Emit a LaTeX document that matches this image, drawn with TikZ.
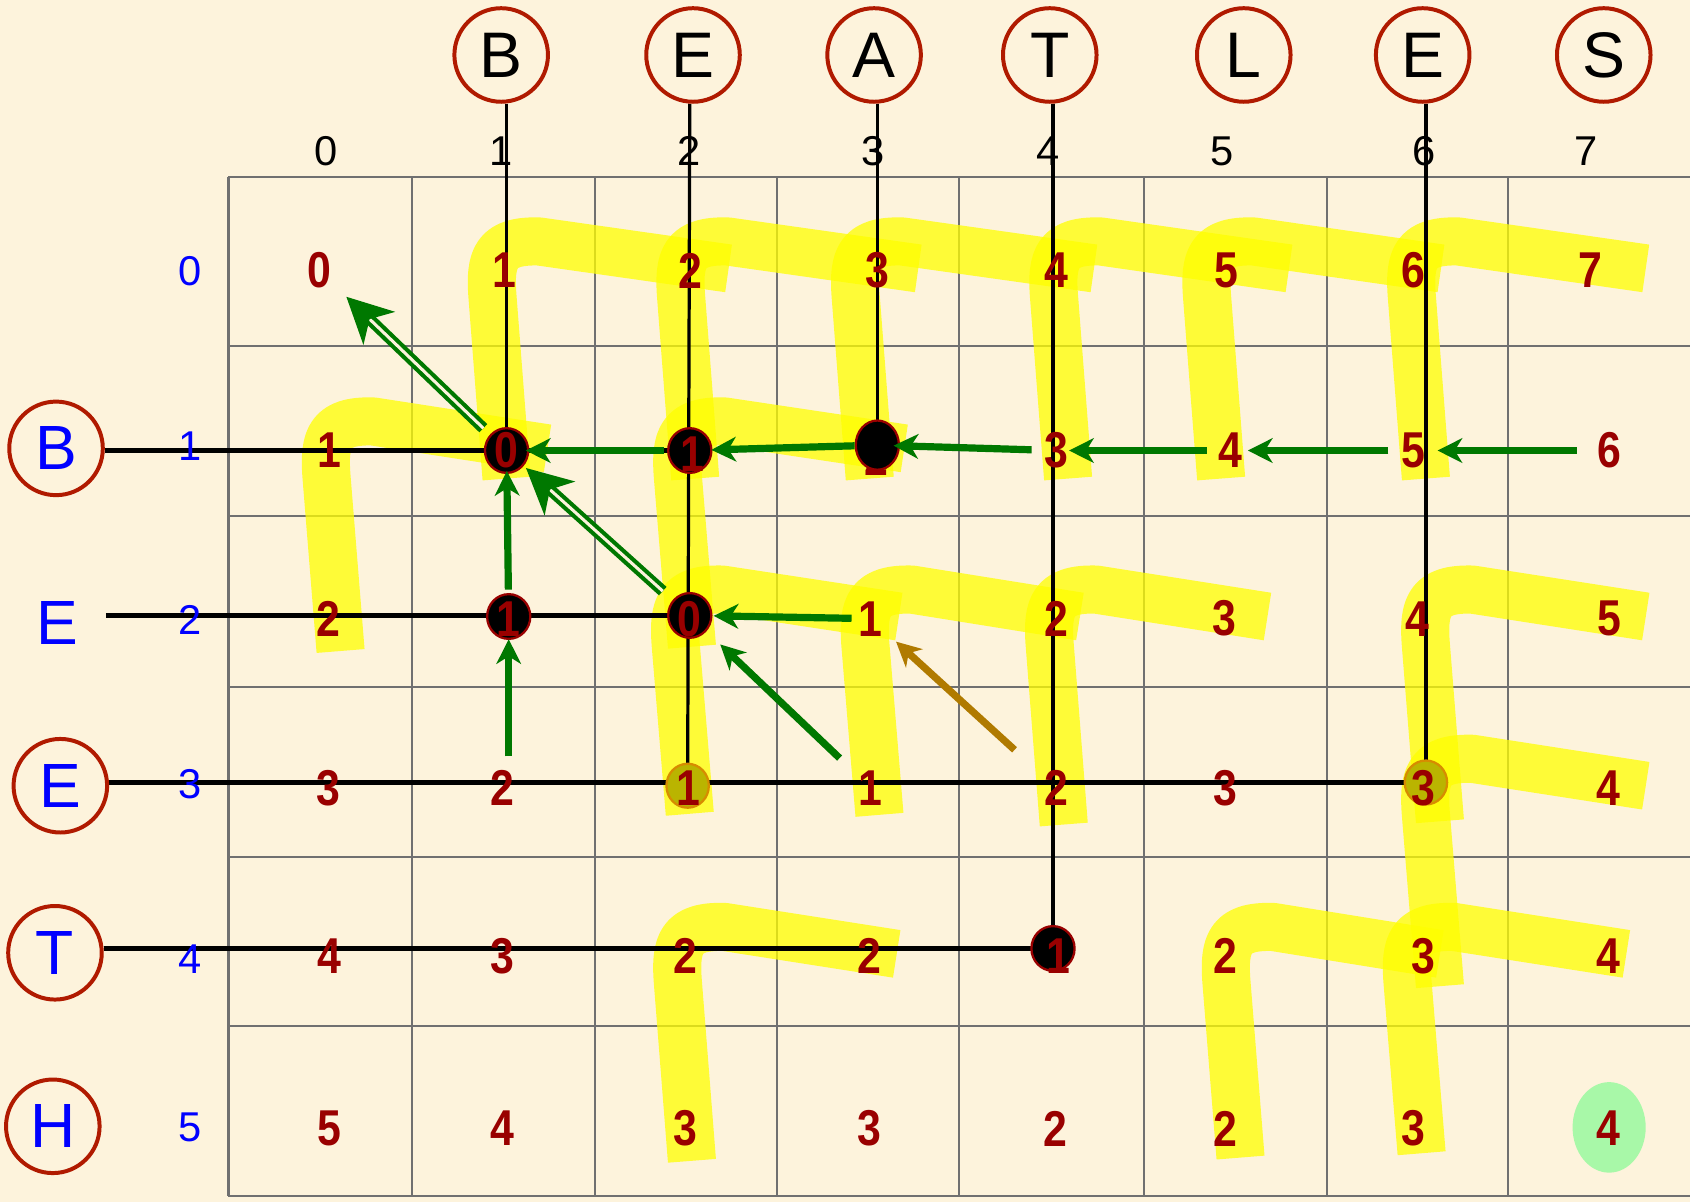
\documentclass[tikz,border=0pt]{standalone}
\usepackage{fontspec}
\setmainfont{Liberation Sans}
\newfontfamily\numfont[FakeStretch=0.85]{Liberation Sans}
\usetikzlibrary{arrows.meta,shapes.geometric}
\pgfdeclarelayer{back}
\pgfdeclarelayer{mid}
\pgfsetlayers{back,mid,main}
\definecolor{bg}{RGB}{253,243,220}
\definecolor{numred}{RGB}{153,0,0}
\definecolor{ringred}{RGB}{176,26,0}
\definecolor{gr}{RGB}{0,120,0}
\definecolor{brn}{RGB}{176,122,0}
\definecolor{gridc}{RGB}{112,112,112}
\definecolor{hlyellow}{RGB}{255,255,0}
\definecolor{olivefill}{RGB}{186,180,0}
\definecolor{oliveedge}{RGB}{215,140,0}
\definecolor{mint}{RGB}{168,248,168}
\newcommand\yhook[4]{%
  \draw[hl] (#1+12,#2) -- (#1-1,#3+25) .. controls (#1-4,#3-12) and (#1+2,#3-28) .. (#1+42,#3-27) -- (#4,#3-2);}
\begin{document}
\begin{tikzpicture}[x=0.1mm,y=-0.1mm,
  gridline/.style={draw=gridc,line width=0.55pt},
  hl/.style={draw=hlyellow,draw opacity=0.75,line width=12.7pt,line cap=butt,line join=round},
  num/.style={inner sep=0pt,text=numred,font=\numfont\bfseries\fontsize{13.3}{13.3}\selectfont},
  colidx/.style={inner sep=0pt,text=black,font=\fontsize{11}{11}\selectfont},
  rowidx/.style={inner sep=0pt,text=blue,font=\fontsize{11}{11}\selectfont},
  topletter/.style={circle,draw=ringred,line width=1.05pt,minimum size=24.7pt,inner sep=0pt,text=black,font=\fontsize{17}{17}\selectfont},
  leftletter/.style={topletter,text=blue,font=\fontsize{16.5}{16.5}\selectfont},
  plainletter/.style={leftletter,draw=none},
  matchline/.style={draw=black,line width=0.85pt},
  hline/.style={draw=black,line width=1.1pt},
  blackdot/.style={ellipse,fill=black,draw=numred,line width=0.6pt,minimum width=11.4pt,minimum height=11.8pt,inner sep=0pt},
  olivedot/.style={ellipse,fill=olivefill,draw=oliveedge,line width=0.6pt,minimum width=11.2pt,minimum height=11.6pt,inner sep=0pt},
  garrow/.style={draw=gr,line width=1.9pt,-{Stealth[length=6.5pt,width=6.5pt,inset=2pt]}},
  barrow/.style={garrow,draw=brn},
  dblarrow/.style={draw=gr,line width=1.1pt,double=bg,double distance=0.8pt,-{Stealth[length=12pt,width=12pt,inset=3.5pt]}},
]
\begin{pgfonlayer}{back}
\fill[bg] (0,0) rectangle (1568,1115);
\foreach \x in {212,382,552,721,890,1061,1231,1399}{\draw[gridline] (\x,164) -- (\x,1110);}
\foreach \y in {164,321,479,637,795,952,1110}{\draw[gridline] (212,\y) -- (1568,\y);}
% highlighter hooks
\yhook{458}{444}{251}{676}
\yhook{633}{444}{251}{852}
\yhook{795}{444}{251}{1015}
\yhook{979}{444}{251}{1196}
\yhook{1121}{444}{251}{1337}
\yhook{1311}{444}{251}{1527}
\yhook{304}{604}{418}{508}
\yhook{630}{600}{418}{839}
\yhook{628}{755}{574}{834}
\yhook{804}{756}{574}{1002}
\yhook{975}{765}{574}{1176}
\yhook{1324}{762}{574}{1527}
\yhook{1324}{915}{731}{1527}
\yhook{630}{1077}{887}{832}
\yhook{1139}{1074}{887}{1336}
\yhook{1307}{1070}{887}{1509}
\end{pgfonlayer}
\useasboundingbox (0,0) rectangle (1568,1115);

% letters
\node[topletter] (tB) at (465,51) {B};
\node[topletter] (tE) at (643,51) {E};
\node[topletter] (tA) at (811,51) {A};
\node[topletter] (tT) at (974,51) {T};
\node[topletter] (tL) at (1154,51) {L};
\node[topletter] (tE2) at (1320,51) {E};
\node[topletter] (tS) at (1488,51) {S};
\node[leftletter] (lB) at (52,416) {B};
\node[plainletter] (lE) at (53,578) {E};
\node[leftletter] (lE2) at (56,729) {E};
\node[leftletter] (lT) at (51,884) {T};
\node[leftletter] (lH) at (49,1045) {H};

% indices
\foreach \x [count=\c from 0] in {303,465,639,810,972,1134,1321,1472}{\node[colidx] (h\c) at (\x,140) {\c};}
\foreach \y [count=\r from 0] in {252,414,575,728,890,1046}{\node[rowidx] (r\r) at (176,\y) {\r};}

% final cell mark
\node[ellipse,fill=mint,minimum width=19.3pt,minimum height=23.9pt,inner sep=0pt] (g57) at (1493,1046) {};

% dots
\node[blackdot] (d11) at (470,418) {};
\node[blackdot] (d12) at (640,418) {};
\node[blackdot] (d21) at (472,572) {};
\node[blackdot] (d22) at (640,571) {};
\node[blackdot] (d44) at (977,880) {};
\node[olivedot] (o32) at (638,729) {};
\node[olivedot] (o36) at (1323,726) {};

% numbers
\foreach \x/\v [count=\c from 0] in {296/0,468/1,641/2,814/3,980/4,1138/5,1311/6,1476/7}{\node[num] (c-0-\c) at (\x,251) {\v};}
\node[num] (c-1-0) at (306,418) {1};
\node[num] (c-1-1) at (470,418) {0};
\node[num] (c-1-2) at (642,421) {1};
\node[num] (c-1-3) at (813,425) {2};
\node[num] (c-1-4) at (980,418) {3};
\node[num] (c-1-5) at (1142,418) {4};
\node[num] (c-1-6) at (1311,418) {5};
\node[num] (c-1-7) at (1493,418) {6};
\foreach \x/\v [count=\c from 0] in {305/2,472/1,640/0,808/1,980/2,1136/3,1315/4,1493/5}{\node[num] (c-2-\c) at (\x,574) {\v};}
\foreach \x/\v [count=\c from 0] in {305/3,466/2,639/1,808/1,980/2,1137/3,1321/3,1492/4}{\node[num] (c-3-\c) at (\x,731) {\v};}
\foreach \x/\v [count=\c from 0] in {306/4,466/3,636/2,807/2,982/1,1137/2,1321/3,1492/4}{\node[num] (c-4-\c) at (\x,887) {\v};}
\foreach \x/\v [count=\c from 0] in {306/5,466/4,636/3,807/3,979/2,1137/2,1311/3,1492/4}{\node[num] (c-5-\c) at (\x,1047) {\v};}

\node[blackdot,minimum height=13pt] (d13) at (814,413) {};

% match lines
\begin{pgfonlayer}{mid}
\draw[matchline] (tB.south -| d11) -- (d11.center);
\draw[matchline] (tE.south -| d12) -- (o32.center);
\draw[matchline] (tA.south -| d13) -- (d13.center);
\draw[matchline] (tT.south -| d44) -- (d44.center);
\draw[matchline] (tE2.south -| o36) -- (o36.center);
\draw[hline] (lB.east |- d11) -- (d12.center);
\draw[hline] (lE.east |- d22) -- (d22.center);
\draw[hline] (lE2.east |- o36) -- (o36.center);
\draw[hline] (lT.east |- d44) -- (d44.center);
\end{pgfonlayer}

% arrows
\draw[garrow,shorten <=8.5pt,shorten >=6.5pt] (c-1-7.center) -- (c-1-6.center);
\draw[garrow,shorten <=6.5pt,shorten >=4.5pt] (c-1-6.center) -- (c-1-5.center);
\draw[garrow,shorten <=6.3pt,shorten >=3.4pt] (c-1-5.center) -- (c-1-4.center);
\draw[garrow,shorten <=6.5pt,shorten >=4.3pt] (c-1-4.center) -- (d13.center);
\draw[garrow,shorten <=6pt,shorten >=5.7pt] (d13.center) -- (d12.center);
\draw[garrow,shorten <=6.8pt,shorten >=5.1pt] (d12.center) -- (d11.center);
\draw[garrow,shorten <=7.1pt,shorten >=5.4pt] (d21.center) -- (d11.center);
\draw[garrow,shorten <=8.3pt,shorten >=6pt] (c-3-1.center -| d21) -- (d21.center);
\draw[garrow,shorten <=5.1pt,shorten >=6.3pt] (c-2-3.center) -- (d22.center);
\draw[garrow,shorten <=11.4pt,shorten >=11.1pt] (c-3-3.center) -- (d22.center);
\draw[barrow,shorten <=14.9pt,shorten >=9pt] (c-3-4.center) -- (c-2-3.center);
\draw[dblarrow,shorten <=8.5pt,shorten >=10pt] (d11.center) -- (c-0-0.center);
\draw[dblarrow,shorten <=9.6pt,shorten >=6.9pt] (d22.center) -- (d11.center);
\end{tikzpicture}
\end{document}
